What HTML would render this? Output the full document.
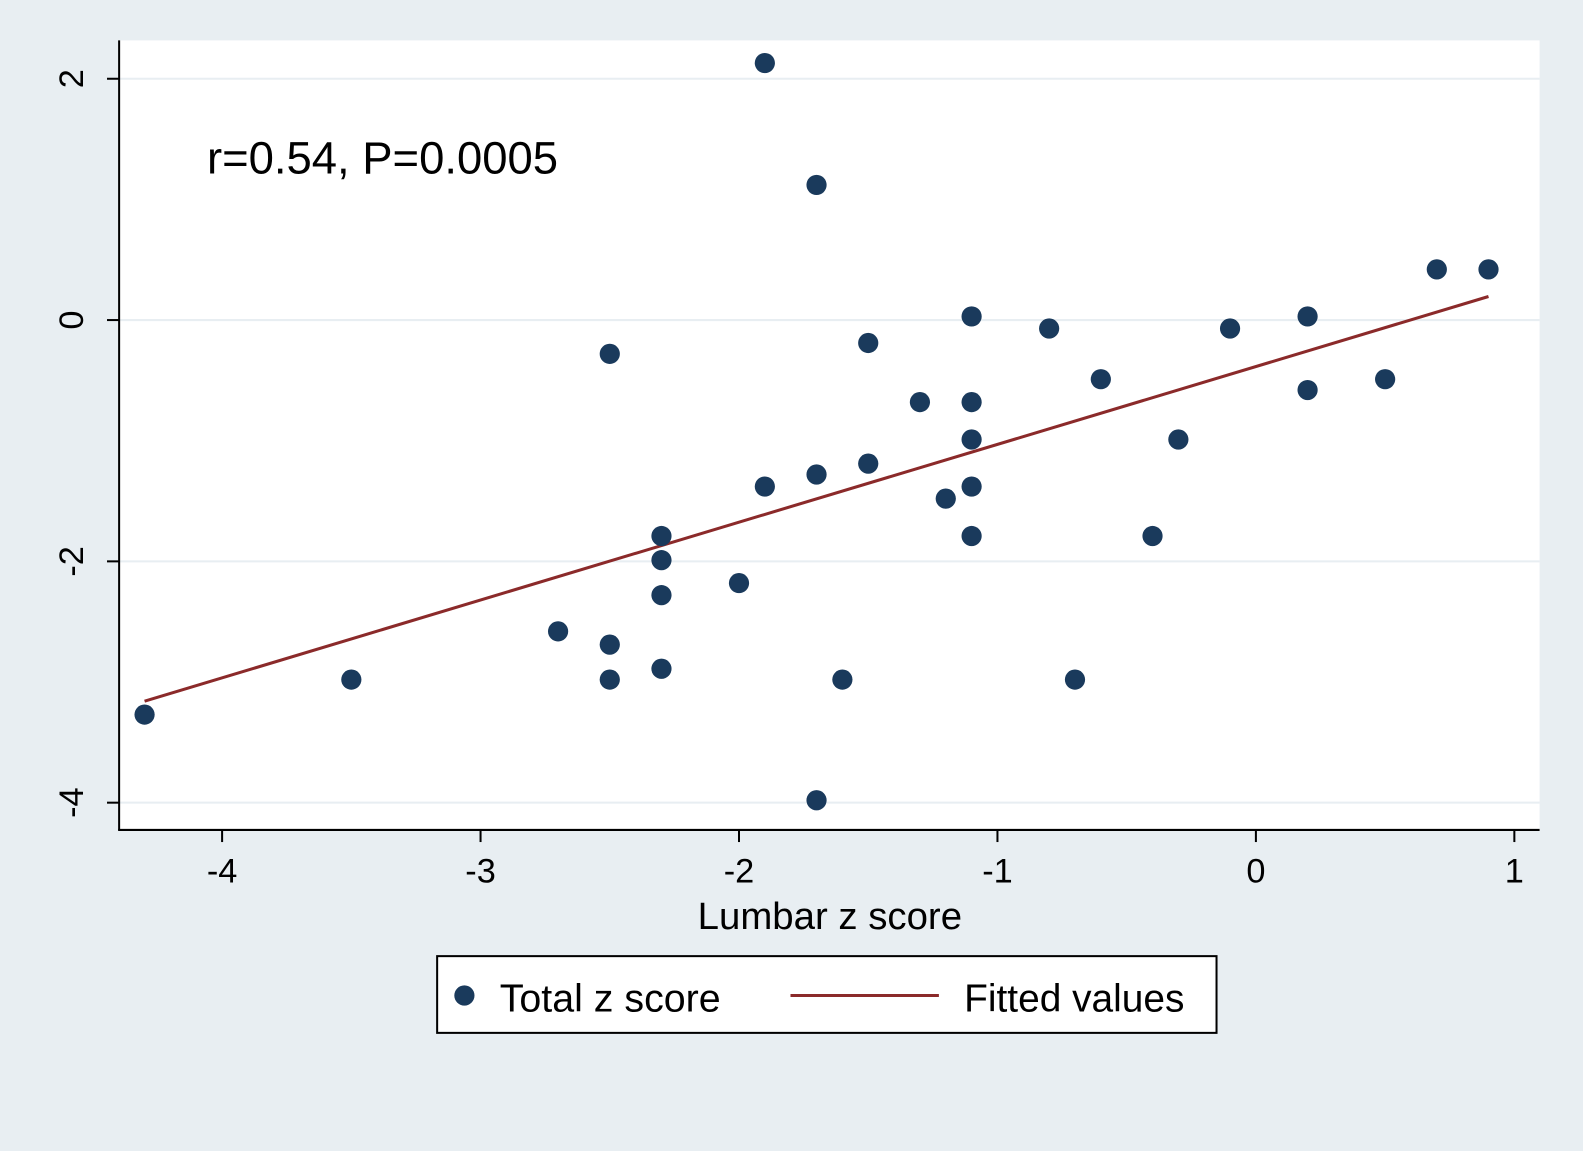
<!DOCTYPE html>
<html><head><meta charset="utf-8"><style>
html,body{margin:0;padding:0;background:#e8eef2;}
svg{display:block;font-family:"Liberation Sans",sans-serif;}
</style></head><body>
<svg id="chart" width="1583" height="1151" viewBox="0 0 1568 1140" preserveAspectRatio="none">
<rect x="0" y="0" width="1568" height="1140" fill="#e8eef2"/>
<rect x="118" y="40" width="1407" height="782" fill="#ffffff"/>
<g id="grid"></g>
<g id="axes"></g>
<g id="fit"></g>
<g id="points"></g>
<text x="205" y="172" font-size="45" fill="#000">r=0.54, P=0.0005</text>
<text x="822" y="920" font-size="38" text-anchor="middle" fill="#000">Lumbar z score</text>
<g>
<rect x="433" y="947" width="772" height="76" fill="#fff" stroke="#000" stroke-width="2"/>
<circle cx="460" cy="986" r="10" fill="#1a3a5c"/>
<text x="495" y="1002" font-size="39">Total z score</text>
<line x1="783" y1="986" x2="930" y2="986" stroke="#8b2a2a" stroke-width="3"/>
<text x="955" y="1002" font-size="38.5">Fitted values</text>
</g>
</svg>
<script>
const lumbar=[-4.3,-3.5,-2.7,-2.5,-2.5,-2.5,-2.3,-2.3,-2.3,-2.3,-2.0,-1.9,-1.9,-1.7,-1.7,-1.7,-1.6,-1.5,-1.5,-1.3,-1.2,-1.1,-1.1,-1.1,-1.1,-1.1,-0.8,-0.7,-0.6,-0.4,-0.3,-0.1,0.2,0.2,0.5,0.7,0.9];
const total=[-3.27,-2.98,-2.58,-2.69,-2.98,-0.28,-1.79,-1.99,-2.28,-2.89,-2.18,2.13,-1.38,1.12,-1.28,-3.98,-2.98,-0.19,-1.19,-0.68,-1.48,0.03,-0.68,-0.99,-1.38,-1.79,-0.07,-2.98,-0.49,-1.79,-0.99,-0.07,0.03,-0.58,-0.49,0.42,0.42];
const xTicks=[-4,-3,-2,-1,0,1];
const yTicks=[-4,-2,0,2];
const NS='http://www.w3.org/2000/svg';
const X=v=>1244+v*256, Y=v=>317-v*119.5;
function mk(tag,attrs,parent,text){const e=document.createElementNS(NS,tag);for(const k in attrs)e.setAttribute(k,attrs[k]);if(text!==undefined)e.textContent=text;document.getElementById(parent).appendChild(e);return e;}
yTicks.forEach(t=>{
  const g=mk('line',{x1:118,x2:1525,y1:Y(t),y2:Y(t),stroke:'#e8eef2','stroke-width':2},'grid');
  
  
  const tk=mk('line',{x1:106,x2:118,y1:Y(t),y2:Y(t),stroke:'#000','stroke-width':2},'axes');
  
  
  const lb=mk('text',{x:0,y:0,'font-size':34,'text-anchor':'middle',transform:`translate(82,${Y(t)}) rotate(-90)`},'axes',String(t));
  
  
});
xTicks.forEach(t=>{
  const tk=mk('line',{x1:X(t),x2:X(t),y1:822,y2:834,stroke:'#000','stroke-width':2},'axes');
  
  
  const lb=mk('text',{x:X(t),y:874,'font-size':34,'text-anchor':'middle'},'axes',String(t));
  
  
});
const ya=mk('line',{x1:118,x2:118,y1:40,y2:822,stroke:'#000','stroke-width':2},'axes');


const xa=mk('line',{x1:117,x2:1525,y1:822,y2:822,stroke:'#000','stroke-width':2},'axes');


const n=lumbar.length;const mx=lumbar.reduce((a,b)=>a+b)/n, my=total.reduce((a,b)=>a+b)/n;
let sxy=0,sxx=0;for(let i=0;i<n;i++){sxy+=(lumbar[i]-mx)*(total[i]-my);sxx+=(lumbar[i]-mx)**2;}
const b=sxy/sxx,a=my-b*mx;const xmin=Math.min(...lumbar),xmax=Math.max(...lumbar);
const fl=mk('line',{x1:X(xmin),y1:Y(a+b*xmin),x2:X(xmax),y2:Y(a+b*xmax),stroke:'#8b2a2a','stroke-width':3},'fit');


lumbar.forEach((v,i)=>{
  const c=mk('circle',{cx:X(v),cy:Y(total[i]),r:10,fill:'#1a3a5c'},'points');
  
  
});
</script>
</body></html>
